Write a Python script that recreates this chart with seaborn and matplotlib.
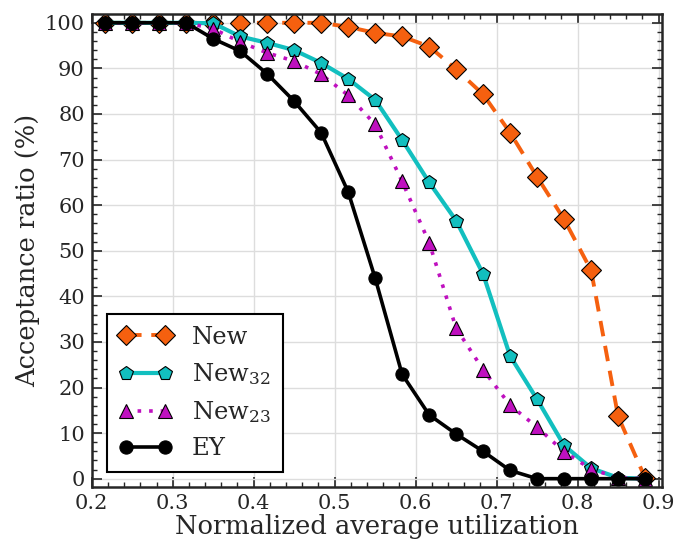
import matplotlib
matplotlib.use("Agg")
import matplotlib.pyplot as plt
from matplotlib.ticker import MultipleLocator
import seaborn as sns
import pandas as pd

# utilization points
util = [0.2167, 0.25, 0.2833, 0.3167, 0.35, 0.3833, 0.4167, 0.45, 0.4833, 0.5167, 0.55,
        0.5833, 0.6167, 0.65, 0.6833, 0.7167, 0.75, 0.7833, 0.8167, 0.85, 0.8833]

new = [100, 100, 100, 100, 100, 100, 100, 100, 100, 99.1, 97.8,
       97.0, 94.8, 89.8, 84.3, 75.9, 66.2, 56.9, 45.7, 13.7, 0.2]
new32 = [100, 100, 100, 100, 99.9, 97.0, 95.6, 94.0, 91.2, 87.7, 83.1,
         74.3, 65.0, 56.6, 44.9, 26.9, 17.4, 7.3, 2.3, 0.2, 0]
new23 = [100, 100, 100, 100, 98.7, 95.8, 93.4, 91.6, 88.7, 84.1, 77.7,
         65.2, 51.8, 33.0, 23.9, 16.1, 11.3, 5.9, 2.1, 0.2, 0]
ey = [100, 100, 100, 100, 96.5, 93.8, 88.8, 82.8, 75.9, 62.9, 44.0,
      22.9, 14.0, 9.8, 6.0, 1.8, 0, 0, 0, 0, 0]

labels = ["New", r"New$_{32}$", r"New$_{23}$", "EY"]

df = pd.DataFrame({"util": util, labels[0]: new, labels[1]: new32,
                   labels[2]: new23, labels[3]: ey})

sns.set_style("ticks")
plt.rcParams.update({
    "font.family": "serif",
    "font.serif": ["DejaVu Serif"],
    "mathtext.fontset": "dejavuserif",
    "xtick.direction": "in",
    "ytick.direction": "in",
    "xtick.top": True,
    "ytick.right": True,
    "xtick.minor.visible": True,
    "ytick.minor.visible": True,
})

fig = plt.figure(figsize=(6.76, 5.44), dpi=100)
ax = fig.add_axes([0.1357, 0.105, 0.8433, 0.869])

styles = [
    dict(color="#f5600f", marker="D", linestyle=(0, (4, 2.5)), lw=2.8, ms=10.5),
    dict(color="#12bfbf", marker="p", linestyle="-", lw=3, ms=10),
    dict(color="#bf10bf", marker="^", linestyle=(0, (1, 2.2)), lw=2.6, ms=10),
    dict(color="black", marker="o", linestyle="-", lw=2.6, ms=9.5),
]
for lab, st in zip(labels, styles):
    sns.lineplot(data=df, x="util", y=lab, ax=ax, label=lab, color=st["color"],
                 marker=st["marker"], linestyle=st["linestyle"], linewidth=st["lw"],
                 markersize=st["ms"], markerfacecolor=st["color"], markeredgecolor="black",
                 markeredgewidth=0.8)

ax.set_xlim(0.2, 0.904)
ax.set_ylim(-1.8, 101.9)
ax.xaxis.set_major_locator(MultipleLocator(0.1))
ax.xaxis.set_minor_locator(MultipleLocator(0.02))
ax.yaxis.set_major_locator(MultipleLocator(10))
ax.yaxis.set_minor_locator(MultipleLocator(2))
ax.tick_params(which="major", length=7, width=1.2, labelsize=15, pad=5)
ax.tick_params(which="minor", length=3.5, width=1)
for sp in ax.spines.values():
    sp.set_linewidth(1.8)
ax.grid(True, which="major", color="#dddddd", linewidth=1)
ax.set_axisbelow(True)

ax.set_xlabel("Normalized average utilization", fontsize=18.5, labelpad=1)
ax.set_ylabel("Acceptance ratio (%)", fontsize=18.5, labelpad=3)

leg = ax.legend(loc="lower left", fontsize=17.5, frameon=True, fancybox=False,
                edgecolor="black", framealpha=1, borderpad=0.5, handlelength=2.2,
                numpoints=2, labelspacing=0.5, handletextpad=0.8,
                bbox_to_anchor=(0.005, 0.005))
leg.get_frame().set_linewidth(1.5)

fig.savefig("out.png", dpi=100)
